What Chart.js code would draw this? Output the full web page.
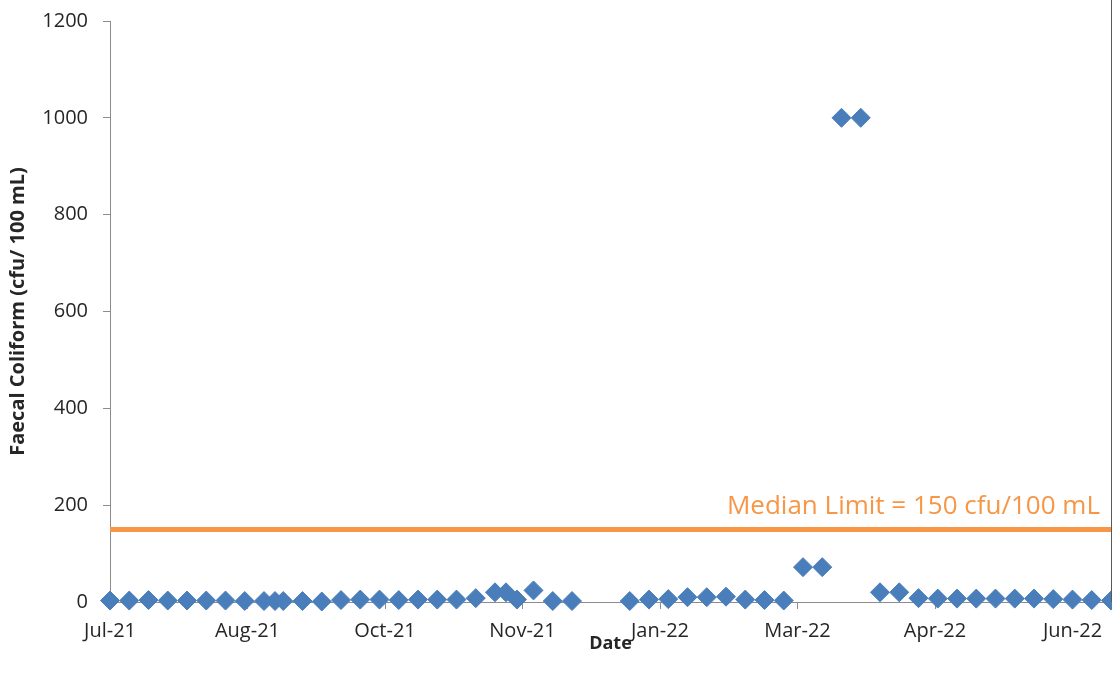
<!DOCTYPE html>
<html>
<head>
<meta charset="utf-8">
<title>Faecal Coliform</title>
<script src="https://cdn.jsdelivr.net/npm/chart.js@4"></script>
<style>
  html, body { margin: 0; padding: 0; background: #fff; }
  #wrap { width: 1112px; height: 682px; }
</style>
</head>
<body>
<div id="wrap"><canvas id="fcChart" width="1112" height="682"></canvas></div>
<script>
const sampleDates = [
  '2021-07-01', '2021-07-08', '2021-07-15', '2021-07-22', '2021-07-29',
  '2021-08-05', '2021-08-12', '2021-08-19', '2021-08-26', '2021-08-30',
  '2021-09-02', '2021-09-09', '2021-09-16', '2021-09-23', '2021-09-30',
  '2021-10-07', '2021-10-14', '2021-10-21', '2021-10-28',
  '2021-11-04', '2021-11-11', '2021-11-18', '2021-11-22', '2021-11-26',
  '2021-12-02', '2021-12-09', '2021-12-16',
  '2022-01-06', '2022-01-13', '2022-01-20', '2022-01-27',
  '2022-02-03', '2022-02-10', '2022-02-17', '2022-02-24',
  '2022-03-03', '2022-03-10', '2022-03-17', '2022-03-24', '2022-03-31',
  '2022-04-07', '2022-04-14', '2022-04-21', '2022-04-28',
  '2022-05-05', '2022-05-12', '2022-05-19', '2022-05-26',
  '2022-06-02', '2022-06-09', '2022-06-16', '2022-06-23', '2022-06-30'
];
const faecalColiform = [
  3, 3, 4, 3, 3,
  3, 3, 2, 2, 2,
  2, 2, 1, 4, 5,
  5, 4, 5, 5,
  5, 8, 20, 20, 5,
  24, 2, 2,
  2, 5, 6, 10,
  10, 11, 5, 4,
  3, 72, 72, 1000, 1000,
  20, 20, 8, 7,
  7, 7, 7, 7,
  7, 6, 5, 4, 3
];
const medianLimit = 150;
const axisStart = '2021-07-01';
const axisEnd = '2022-06-30';
const xTickDays = [0, 50, 100, 150, 200, 250, 300, 350];
const yTicks = [0, 200, 400, 600, 800, 1000, 1200];
const monthNames = ['Jan', 'Feb', 'Mar', 'Apr', 'May', 'Jun', 'Jul', 'Aug', 'Sep', 'Oct', 'Nov', 'Dec'];

const DAY = 86400000;
const dayOf = s => (Date.parse(s) - Date.parse(axisStart)) / DAY;

function monthLabel(day) {
  const d = new Date(Date.parse(axisStart) + day * DAY);
  return monthNames[d.getUTCMonth()] + '-' + String(d.getUTCFullYear()).slice(2);
}

const TEXT = '#262626';
const AXIS = '#8c8c8c';
const ORANGE = '#f79646';
const BLUE = '#4a7ebb';

// label for the median limit line, sits just above it at the right
const medianLabel = {
  id: 'medianLabel',
  afterDatasetsDraw(chart) {
    const { ctx, chartArea, scales } = chart;
    const y = scales.y.getPixelForValue(medianLimit);
    ctx.save();
    ctx.font = '26px "Open Sans"';
    ctx.fillStyle = ORANGE;
    ctx.textAlign = 'right';
    ctx.textBaseline = 'alphabetic';
    ctx.fillText('Median Limit = ' + medianLimit + ' cfu/100 mL', chartArea.right - 11, y - 15);
    ctx.restore();
  }
};

// thin frame edge on the right side of the plot
const rightEdge = {
  id: 'rightEdge',
  afterDraw(chart) {
    const { ctx, chartArea } = chart;
    ctx.save();
    ctx.strokeStyle = '#595959';
    ctx.lineWidth = 1;
    ctx.beginPath();
    ctx.moveTo(chartArea.right + 0.5, 0);
    ctx.lineTo(chartArea.right + 0.5, chartArea.bottom);
    ctx.stroke();
    ctx.restore();
  }
};

// keep the plot edges fixed instead of making room for label overhang
function noOverhang(scale) {
  scale.paddingLeft = 0;
  scale.paddingRight = 0;
  scale.paddingTop = 0;
  scale.paddingBottom = 0;
}

new Chart(document.getElementById('fcChart'), {
  type: 'scatter',
  data: {
    datasets: [
      {
        label: 'Median Limit',
        type: 'line',
        data: [
          { x: dayOf(axisStart), y: medianLimit },
          { x: dayOf(axisEnd), y: medianLimit }
        ],
        borderColor: ORANGE,
        borderWidth: 5,
        pointRadius: 0,
        fill: false,
        clip: false
      },
      {
        label: 'Faecal Coliform',
        data: sampleDates.map((d, i) => ({ x: dayOf(d), y: faecalColiform[i] })),
        pointStyle: 'rectRot',
        pointRadius: 9.5,
        pointBackgroundColor: BLUE,
        pointBorderColor: BLUE,
        pointBorderWidth: 1,
        clip: false
      }
    ]
  },
  options: {
    responsive: false,
    animation: false,
    devicePixelRatio: 1,
    layout: { autoPadding: false, padding: { top: 21, right: 1, bottom: 0, left: 0 } },
    plugins: {
      legend: { display: false },
      tooltip: { enabled: false }
    },
    scales: {
      x: {
        type: 'linear',
        min: dayOf(axisStart),
        max: dayOf(axisEnd),
        afterBuildTicks: scale => { scale.ticks = xTickDays.map(v => ({ value: v })); },
        afterFit: scale => { scale.height = 80; noOverhang(scale); },
        grid: { drawOnChartArea: false, drawTicks: true, tickLength: 7, color: AXIS },
        border: { color: AXIS, width: 1 },
        ticks: {
          autoSkip: false,
          maxRotation: 0,
          padding: 10,
          color: TEXT,
          font: { family: 'Open Sans', size: 20 },
          callback: v => monthLabel(v)
        },
        title: {
          display: true,
          text: 'Date',
          color: TEXT,
          font: { family: 'Open Sans', size: 18, weight: 'bold' },
          padding: { top: 0, bottom: 27 }
        }
      },
      y: {
        min: 0,
        max: 1200,
        afterBuildTicks: scale => { scale.ticks = yTicks.map(v => ({ value: v })); },
        afterFit: scale => { scale.width = 110; noOverhang(scale); },
        grid: { drawOnChartArea: false, drawTicks: true, tickLength: 7, color: AXIS },
        border: { color: AXIS, width: 1 },
        ticks: {
          padding: 15,
          color: TEXT,
          font: { family: 'Open Sans', size: 20 },
          callback: v => String(v)
        },
        title: {
          display: true,
          text: 'Faecal Coliform (cfu/ 100 mL)',
          color: TEXT,
          font: { family: 'Open Sans', size: 20, weight: 'bold' },
          padding: { top: 6, bottom: 0 }
        }
      }
    }
  },
  plugins: [medianLabel, rightEdge]
});
</script>
</body>
</html>
